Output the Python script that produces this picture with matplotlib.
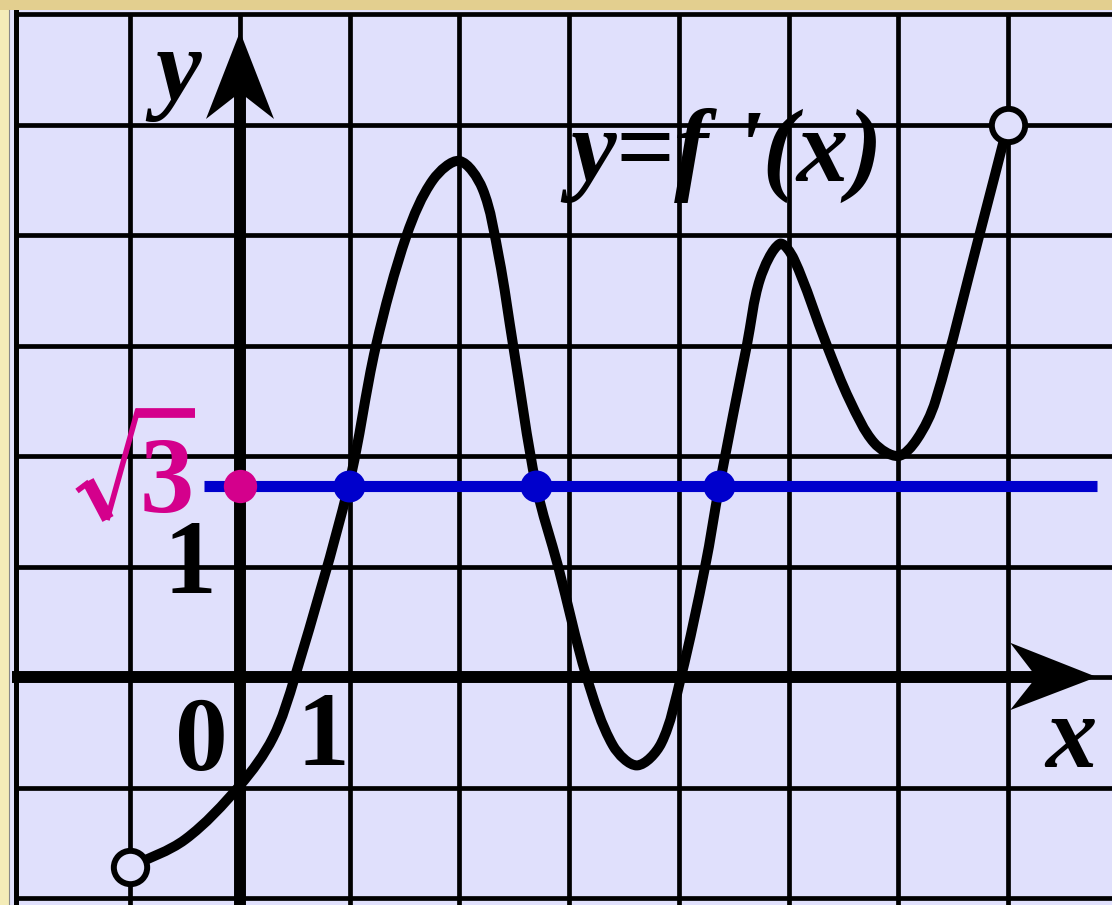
import numpy as np
import matplotlib.pyplot as plt
from matplotlib.patches import Polygon, Rectangle, PathPatch
from matplotlib.path import Path

# values (grid units)
curve_x = [-1.00, -0.50, 0.00, 0.30, 0.50, 0.99, 1.24, 1.52, 1.76, 2.00,
           2.21, 2.36, 2.49, 2.70, 2.90, 3.16, 3.40, 3.62, 3.84, 4.02,
           4.24, 4.37, 4.62, 4.74, 4.92, 5.05, 5.35, 5.56, 5.78, 6.00,
           6.17, 6.34, 6.74, 7.00]
curve_y = [-1.72, -1.47, -0.98, -0.55, 0.00, 1.73, 3.00, 4.00, 4.50, 4.67,
           4.42, 3.80, 3.00, 1.73, 1.00, 0.00, -0.62, -0.80, -0.60, 0.00,
           1.00, 1.73, 3.00, 3.60, 3.92, 3.78, 3.00, 2.50, 2.12, 2.00,
           2.15, 2.50, 4.00, 5.00]
open_x = [-1.0, 7.0]
open_y = [-1.72, 5.0]
level = np.sqrt(3)
hits_x = [0.99, 2.70, 4.37]
level_x = [-0.33, 7.81]

LAV = '#E0E0FC'
MAG = '#D4008C'
BLUE = '#0000CC'
SERIF = 'Liberation Serif'

W, H = 1112, 905
x0px, y0px, ux, uy = 240, 677, 109.7, 110.5
xmin, xmax = -x0px / ux, (W - x0px) / ux
ymin, ymax = -(H - y0px) / uy, y0px / uy


def px(x, y):
    # picture pixel -> grid units
    return (x - x0px) / ux, (y0px - y) / uy


def smooth_path(xs, ys):
    # chord-length Catmull-Rom through the points, as cubic bezier segments
    scale = np.array([ux, uy])
    Q = np.column_stack([xs, ys]) * scale
    t = np.concatenate([[0], np.cumsum(np.hypot(*np.diff(Q, axis=0).T))])
    n = len(Q)
    m = np.zeros_like(Q)
    m[0] = (Q[1] - Q[0]) / (t[1] - t[0])
    m[-1] = (Q[-1] - Q[-2]) / (t[-1] - t[-2])
    for i in range(1, n - 1):
        m[i] = (Q[i + 1] - Q[i - 1]) / (t[i + 1] - t[i - 1])
    verts, codes = [Q[0]], [Path.MOVETO]
    for i in range(n - 1):
        h = t[i + 1] - t[i]
        verts += [Q[i] + m[i] * h / 3, Q[i + 1] - m[i + 1] * h / 3, Q[i + 1]]
        codes += [Path.CURVE4] * 3
    return Path(np.array(verts) / scale, codes)


fig = plt.figure(figsize=(W / 100, H / 100), dpi=100)
fig.patch.set_facecolor('#F4ECB8')
ax = fig.add_axes([0, 0, 1, 1])
ax.set_xlim(xmin, xmax)
ax.set_ylim(ymin, ymax)
ax.axis('off')

# paper background and border strips
ax.add_patch(Rectangle((-2.11, ymin), xmax + 2.11, 6.04 - ymin, fc=LAV, ec='none', zorder=0))
ax.add_patch(Rectangle((xmin, 6.04), xmax - xmin, ymax - 6.04, fc='#E3CF8F', ec='none', zorder=0))

# grid
left_edge = -2.04
for i in range(-1, 8):
    ax.plot([i, i], [ymin, 6.0], color='black', lw=3.4, zorder=1, solid_capstyle='butt')
for j in range(-2, 7):
    ax.plot([left_edge, xmax], [j, j], color='black', lw=3.4, zorder=1, solid_capstyle='butt')
ax.plot([left_edge, left_edge], [ymin, 6.02], color='black', lw=3.6, zorder=1)
ax.plot([-2.11, -2.11], [ymin, 6.04], color='#888888', lw=0.8, zorder=1)

# axes with arrow heads
xtip, ytip = 7.81, 5.84
ax.plot([-2.08, xtip - 0.5], [0, 0], color='black', lw=8.6, solid_capstyle='butt', zorder=3)
ax.plot([0, 0], [ymin, ytip - 0.5], color='black', lw=8.6, solid_capstyle='butt', zorder=3)
ax.add_patch(Polygon([(xtip, 0), (xtip - 0.79, 0.31), (xtip - 0.55, 0), (xtip - 0.79, -0.30)],
                     closed=True, fc='black', ec='none', zorder=3))
ax.add_patch(Polygon([(0, ytip), (-0.31, ytip - 0.79), (0, ytip - 0.55), (0.31, ytip - 0.79)],
                     closed=True, fc='black', ec='none', zorder=3))

# y = sqrt(3) line
ax.plot(level_x, [level, level], color=BLUE, lw=8.0, solid_capstyle='butt', zorder=4)

# the curve
ax.add_patch(PathPatch(smooth_path(curve_x, curve_y), fill=False, ec='black', lw=7.2,
                       capstyle='round', joinstyle='round', zorder=5))
ax.plot(open_x, open_y, 'o', ms=24, mfc=LAV, mec='black', mew=4.3, zorder=6)

ax.plot(hits_x, [level] * len(hits_x), 'o', ms=23, color=BLUE, mec='none', zorder=6)
ax.plot([0], [level], 'o', ms=24, color=MAG, mec='none', zorder=6)

# labels
ax.text(-0.565, 5.45, 'y', family=SERIF, style='italic', weight='bold', fontsize=74,
        ha='center', va='center', zorder=7)
ax.text(*px(1071, 767), 'x', family=SERIF, style='italic', weight='bold', fontsize=74,
        ha='center', va='baseline', zorder=7)
ax.text(*px(201, 770), '0', family=SERIF, weight='bold', fontsize=76,
        ha='center', va='baseline', zorder=7)
ax.text(*px(323, 765), '1', family=SERIF, weight='bold', fontsize=76,
        ha='center', va='baseline', zorder=7)
ax.text(*px(190, 593), '1', family=SERIF, weight='bold', fontsize=76,
        ha='center', va='baseline', zorder=7)
ax.text(*px(570, 181), "y=f '(x)", family=SERIF, style='italic', weight='bold', fontsize=74,
        ha='left', va='baseline', zorder=7)

# sqrt(3) label: radical sign strokes + digit
rad = dict(color=MAG, solid_capstyle='butt', zorder=7)
ax.plot(*zip(px(77, 491), px(89, 482)), lw=4.0, **rad)
ax.plot(*zip(px(88, 481), px(108, 519)), lw=9.0, **rad)
ax.plot(*zip(px(107, 520), px(138, 409)), lw=4.0, **rad)
ax.plot(*zip(px(136, 413), px(195, 413)), lw=7.0, **rad)
ax.text(*px(167, 512), '3', family=SERIF, weight='bold', fontsize=78, color=MAG,
        ha='center', va='baseline', zorder=7)

fig.savefig('out.png', dpi=100, facecolor=fig.get_facecolor())
